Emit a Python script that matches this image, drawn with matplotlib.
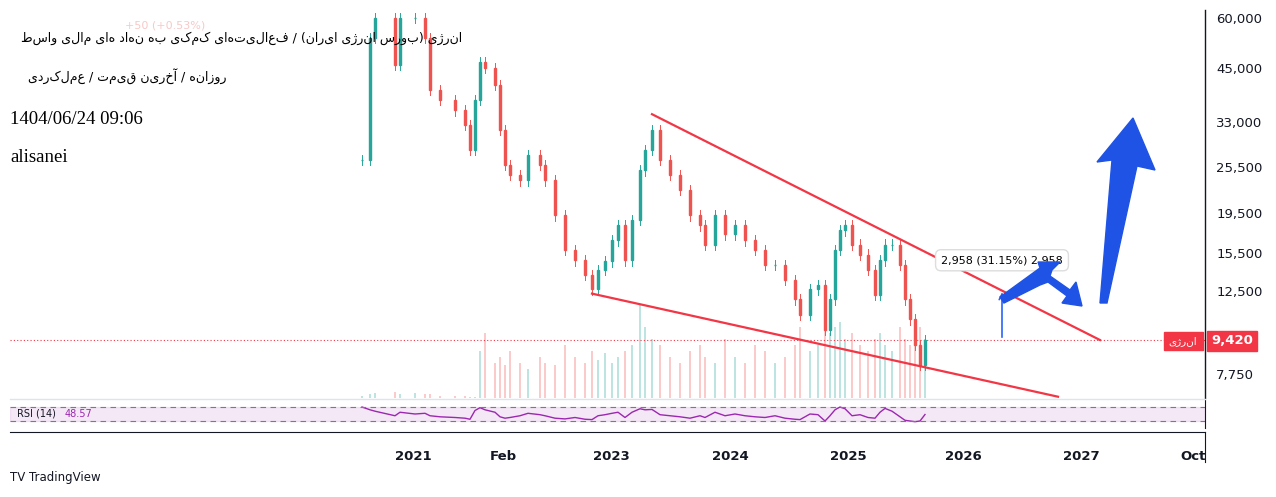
import matplotlib.pyplot as plt
from matplotlib.patches import Rectangle, Polygon

# bar position (session index) and close prices
bar_pos = [0, 8, 13, 33, 38, 53, 63, 68, 78, 93, 103, 108, 113, 118, 123, 133, 138, 143, 148,
           158, 166, 178, 183, 193, 203, 213, 223, 230, 236, 243, 250, 256, 263, 270, 278, 283,
           290, 298, 308, 318, 328, 338, 343, 353, 363, 373, 383, 393, 403, 413, 423, 433, 438,
           448, 456, 463, 468, 473, 478, 483, 490, 498, 506, 513, 518, 523, 530, 538, 543, 548,
           553, 558, 563]
closes = [26500, 53500, 60000, 45800, 60000, 60000, 53500, 39700, 37500, 35300, 32400, 28100,
          37500, 46600, 45000, 40800, 31500, 25800, 24300, 23600, 27300, 25800, 23600, 19300,
          15800, 14900, 13700, 12600, 14100, 14800, 16700, 18200, 14900, 18800, 25000, 28100,
          31500, 26500, 24300, 22300, 19300, 18200, 16300, 19300, 17300, 18200, 16700, 15800,
          14500, 14500, 13300, 11900, 10900, 12600, 12900, 10000, 11900, 15800, 17700, 18200,
          16300, 15400, 14100, 12200, 14900, 16300, 16300, 14500, 11900, 10600, 9170, 8170, 9420]
volumes = [2, 3, 4, 5, 3, 4, 3, 3, 2, 2, 2, 1, 1, 40, 55, 30, 35, 28, 40, 30, 25, 35, 30,
           28, 45, 35, 30, 40, 32, 38, 30, 35, 40, 45, 80, 60, 50, 45, 35, 30, 40, 45, 35, 30, 50,
           35, 30, 45, 40, 30, 35, 45, 60, 40, 45, 70, 55, 60, 65, 50, 55, 45, 40, 50, 55, 45, 40,
           60, 50, 45, 55, 60, 50]
rsi = [70, 62, 58, 45, 55, 50, 52, 45, 42, 40, 38, 35, 60, 68, 62, 55, 42, 38, 40, 45, 52, 48,
       45, 38, 36, 40, 35, 34, 45, 48, 52, 55, 40, 55, 65, 62, 63, 48, 45, 42, 38, 45, 40, 55, 45,
       50, 45, 42, 40, 45, 38, 35, 34, 50, 48, 30, 45, 62, 70, 65, 45, 48, 40, 38, 55, 66, 58,
       42, 32, 30, 28, 30, 48.57]

year_ticks = [51, 141, 249, 368, 486, 601, 719, 831]
year_labels = ['2021', 'Feb', '2023', '2024', '2025', '2026', '2027', 'Oct']
price_ticks = [60000, 45000, 33000, 25500, 19500, 15500, 12500, 7750]

upper_line = ([290, 738], [34500, 9420])
lower_line = ([230, 696], [12300, 6800])

UP = '#26a69a'
DOWN = '#ef5350'
title1 = 'انرژی (بورس انرژی ایران) / فعالیتهای کمکی به نهاد های مالی واسط'
title2 = 'روزانه / آخرین قیمت / عملکردی'


def rtl(s):
    mirror = {'(': ')', ')': '('}
    return ''.join(mirror.get(c, c) for c in reversed(s))


fig = plt.figure(figsize=(12.76, 4.97), dpi=100)
W, H = 1276, 497


def box(l, t, r, b):
    return [l / W, 1 - b / H, (r - l) / W, (b - t) / H]


def px(x, y):
    return (x / W, 1 - y / H)


ax = fig.add_axes(box(10, 10, 1205, 398))
axv = ax.twinx()
axv.set_zorder(0)
ax.set_zorder(1)
ax.patch.set_visible(False)

# volume
vol_colors = []
prev = closes[0]
for c in closes:
    vol_colors.append(UP if c >= prev else DOWN)
    prev = c
axv.bar(bar_pos, volumes, width=2.5, color=vol_colors, alpha=0.3)
axv.set_ylim(0, 330)
axv.axis('off')

# candles
prev = closes[0]
for x, c in zip(bar_pos, closes):
    o = prev
    col = UP if c >= o else DOWN
    hi, lo = max(o, c) * 1.03, min(o, c) * 0.97
    ax.plot([x, x], [lo, hi], color=col, lw=0.7, zorder=3)
    ax.add_patch(Rectangle((x - 0.9, min(o, c)), 1.8, abs(c - o) + 1, color=col, zorder=3))
    prev = c

ax.plot(*upper_line, color='#f23645', lw=1.6, zorder=4)
ax.plot(*lower_line, color='#f23645', lw=1.6, zorder=4)
ax.axhline(closes[-1], color='#f23645', lw=0.8, ls=(0, (1, 2)), zorder=2)

ax.set_yscale('log')
ax.set_xlim(-352, 843)
ax.set_ylim(6750, 62800)
ax.yaxis.tick_right()
ax.set_yticks(price_ticks)
ax.set_yticklabels([f'{p:,}' for p in price_ticks])
ax.yaxis.set_minor_locator(plt.NullLocator())
ax.tick_params(axis='y', length=0, labelsize=9.5, pad=8, colors='#131722')
ax.set_xticks([])
for s in ['top', 'left', 'bottom']:
    ax.spines[s].set_visible(False)
ax.spines['right'].set_color('#131722')
ax.spines['right'].set_linewidth(1)

# measure annotation
ax.annotate('', xy=(640, 12600), xytext=(640, 9420),
            arrowprops=dict(arrowstyle='->', color='#2962ff', lw=1.2))
ax.text(640, 14900, '2,958 (31.15%) 2,958', fontsize=8, ha='center', va='center', zorder=6,
        bbox=dict(boxstyle='round,pad=0.5', fc='white', ec='#dddddd'))

# big blue arrows (figure pixel space)
zig = [(1000, 297), (1040, 268), (1038, 262), (1060, 262), (1052, 270), (1050, 276),
       (1070, 290), (1076, 282), (1082, 306), (1062, 303), (1067, 296), (1048, 282),
       (1040, 285), (1004, 303)]
fig.add_artist(Polygon([px(*p) for p in zig], closed=True, transform=fig.transFigure,
                       color='#1e53e5', zorder=10))
big = [(1100, 303), (1112, 160), (1097, 162), (1133, 118), (1155, 170), (1137, 166), (1107, 303)]
fig.add_artist(Polygon([px(*p) for p in big], closed=True, transform=fig.transFigure,
                       color='#1e53e5', zorder=10))

# price tags
fig.add_artist(Rectangle(px(1207, 351), 50 / W, 20 / H, transform=fig.transFigure,
                         color='#f23645'))
fig.text(1232 / W, 1 - 341 / H, f'{closes[-1]:,}', color='white', fontsize=9.5,
         ha='center', va='center', fontweight='bold')
fig.add_artist(Rectangle(px(1164, 350), 39 / W, 18 / H, transform=fig.transFigure,
                         color='#f23645'))
fig.text(1183 / W, 1 - 341 / H, rtl('انرژی'), color='white', fontsize=7.5,
         ha='center', va='center', family='DejaVu Sans')

# RSI pane
axr = fig.add_axes(box(10, 400, 1205, 428))
axr.plot(bar_pos, rsi, color='#9c27b0', lw=1)
axr.axhspan(30, 70, color='#9c27b0', alpha=0.1)
axr.axhline(70, color='#787b86', lw=0.8, ls=(0, (5, 4)))
axr.axhline(30, color='#787b86', lw=0.8, ls=(0, (5, 4)))
axr.set_xlim(-352, 843)
axr.set_ylim(10, 90)
axr.set_xticks([])
axr.set_yticks([])
for s in ['top', 'left', 'bottom']:
    axr.spines[s].set_visible(False)
axr.spines['right'].set_color('#131722')
axr.text(0.006, 0.5, 'RSI (14)', transform=axr.transAxes, fontsize=7, va='center',
         color='#131722')
axr.text(0.046, 0.5, '48.57', transform=axr.transAxes, fontsize=7, va='center',
         color='#9c27b0')
fig.add_artist(plt.Line2D([10 / W, 1205 / W], [1 - 399 / H] * 2, color='#e0e3eb', lw=1))

# time axis
axt = fig.add_axes(box(10, 432, 1205, 462))
axt.set_xlim(-352, 843)
axt.set_ylim(0, 1)
axt.set_yticks([])
axt.set_xticks(year_ticks)
axt.set_xticklabels(year_labels, fontweight='bold')
axt.xaxis.tick_top()
axt.tick_params(axis='x', length=0, labelsize=9.5, pad=-22, colors='#131722')
for s in ['left', 'bottom']:
    axt.spines[s].set_visible(False)
axt.spines['top'].set_color('#131722')
axt.spines['right'].set_color('#131722')
axt.patch.set_visible(False)

# header
fig.text(462 / W, 1 - 38 / H, rtl(title1), fontsize=9, ha='right', va='center')
fig.text(226 / W, 1 - 77 / H, rtl(title2), fontsize=9, ha='right', va='center')
fig.text(10 / W, 1 - 120 / H, '1404/06/24 09:06', fontsize=13.5, va='center',
         family='Liberation Serif')
fig.text(10 / W, 1 - 157 / H, 'alisanei', fontsize=13.5, va='center', family='Liberation Serif')
fig.text(125 / W, 1 - 25 / H, '+50 (+0.53%)', fontsize=8, va='center', color='#f8c8c8')
fig.text(10 / W, 1 - 478 / H, 'TV TradingView', fontsize=8.5, va='center', color='#131722')

fig.savefig('out.png', dpi=100, facecolor='white')
